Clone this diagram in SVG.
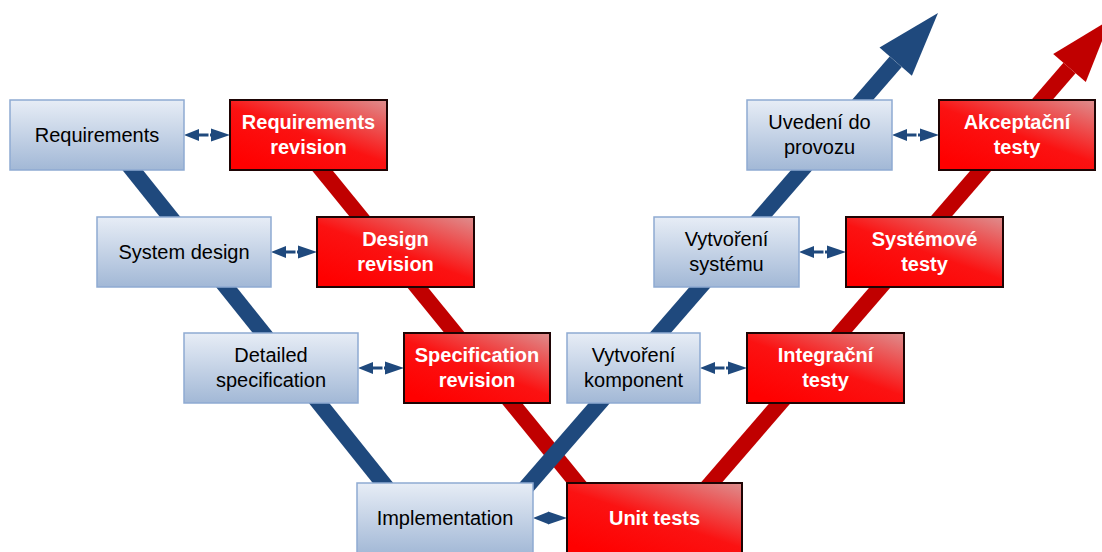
<svg xmlns="http://www.w3.org/2000/svg" width="1102" height="552" viewBox="0 0 1102 552">
<defs>
<linearGradient id="gb" x1="0" y1="0" x2="0" y2="1">
<stop offset="0" stop-color="#e7edf6"/>
<stop offset="1" stop-color="#a2b8d6"/>
</linearGradient>
<linearGradient id="gr" x1="0.2" y1="1" x2="1" y2="0">
<stop offset="0" stop-color="#ff0000"/>
<stop offset="0.45" stop-color="#fb1212"/>
<stop offset="1" stop-color="#de8e8e"/>
</linearGradient>
</defs>
<style>
.bb{fill:url(#gb);stroke:#8eaad2;stroke-width:1.5}
.rb{fill:url(#gr);stroke:#1e0404;stroke-width:2}
.bt{font-family:"Liberation Sans",Arial,sans-serif;font-size:20px;fill:#000;text-anchor:middle}
.rt{font-family:"Liberation Sans",Arial,sans-serif;font-size:20px;font-weight:bold;fill:#fff;text-anchor:middle}
.lb{stroke:#1f497d;stroke-width:16;fill:none}
.lr{stroke:#c00000;stroke-width:16;fill:none}
.da{fill:#1f497d}
.gap{fill:#fff}
</style>
<g id="connectors">
<line class="lb" x1="104.6" y1="135" x2="411" y2="518"/>
<line class="lr" x1="293.4" y1="135" x2="605.5" y2="518"/>
<line class="lr" x1="680.8" y1="518" x2="1069.5" y2="68"/>
<polygon fill="#c00000" points="1053.2,54 1110.6,19.2 1085.8,82"/>
<line class="lb" x1="499.6" y1="518" x2="895.7" y2="61.7"/>
<polygon fill="#1f497d" points="879.5,47.6 938,13 911.9,75.8"/>
<g id="dbl1"><polygon class="da" points="184,135 199,129 199,141"/><rect class="da" x="198" y="133.5" width="15" height="3"/><polygon class="da" points="230,135 211,128.5 211,141.5"/><rect class="gap" x="208.5" y="132" width="1.5" height="6"/></g>
<g id="dbl2"><polygon class="da" points="271,252 286,246 286,258"/><rect class="da" x="285" y="250.5" width="15" height="3"/><polygon class="da" points="317,252 298,245.5 298,258.5"/><rect class="gap" x="295.5" y="249" width="1.5" height="6"/></g>
<g id="dbl3"><polygon class="da" points="358,368 373,362 373,374"/><rect class="da" x="372" y="366.5" width="15" height="3"/><polygon class="da" points="404,368 385,361.5 385,374.5"/><rect class="gap" x="382.5" y="365" width="1.5" height="6"/></g>
<g id="dbl4"><polygon class="da" points="533,518 548,512 548,524"/><polygon class="da" points="567,518 548,511.5 548,524.5"/></g>
<g id="dbl5"><polygon class="da" points="700,368 715,362 715,374"/><rect class="da" x="714" y="366.5" width="15" height="3"/><polygon class="da" points="747,368 728,361.5 728,374.5"/><rect class="gap" x="724.5" y="365" width="1.5" height="6"/></g>
<g id="dbl6"><polygon class="da" points="799,252 814,246 814,258"/><rect class="da" x="813" y="250.5" width="15" height="3"/><polygon class="da" points="846,252 827,245.5 827,258.5"/><rect class="gap" x="823.5" y="249" width="1.5" height="6"/></g>
<g id="dbl7"><polygon class="da" points="892,135 907,129 907,141"/><rect class="da" x="906" y="133.5" width="15" height="3"/><polygon class="da" points="939,135 920,128.5 920,141.5"/><rect class="gap" x="916.5" y="132" width="1.5" height="6"/></g>
</g>
<g id="requirements"><rect class="bb" x="10" y="100" width="174" height="70"/><text class="bt" x="97" y="142">Requirements</text></g>
<g id="req-revision"><rect class="rb" x="230" y="100" width="157" height="70"/><text class="rt" x="308.5" y="128.5">Requirements</text><text class="rt" x="308.5" y="153.5">revision</text></g>
<g id="system-design"><rect class="bb" x="97" y="217" width="174" height="70"/><text class="bt" x="184" y="259">System design</text></g>
<g id="design-revision"><rect class="rb" x="317" y="217" width="157" height="70"/><text class="rt" x="395.5" y="245.5">Design</text><text class="rt" x="395.5" y="270.5">revision</text></g>
<g id="detailed-spec"><rect class="bb" x="184" y="333" width="174" height="70"/><text class="bt" x="271" y="361.5">Detailed</text><text class="bt" x="271" y="386.5">specification</text></g>
<g id="spec-revision"><rect class="rb" x="404" y="333" width="146" height="70"/><text class="rt" x="477" y="361.5">Specification</text><text class="rt" x="477" y="386.5">revision</text></g>
<g id="implementation"><rect class="bb" x="357" y="483" width="176" height="72"/><text class="bt" x="445" y="525">Implementation</text></g>
<g id="unit-tests"><rect class="rb" x="567" y="483" width="175" height="72"/><text class="rt" x="654.5" y="525">Unit tests</text></g>
<g id="vytvoreni-komponent"><rect class="bb" x="567" y="333" width="133" height="70"/><text class="bt" x="633.5" y="361.5">Vytvoření</text><text class="bt" x="633.5" y="386.5">komponent</text></g>
<g id="integracni-testy"><rect class="rb" x="747" y="333" width="157" height="70"/><text class="rt" x="825.5" y="361.5">Integrační</text><text class="rt" x="825.5" y="386.5">testy</text></g>
<g id="vytvoreni-systemu"><rect class="bb" x="654" y="217" width="145" height="70"/><text class="bt" x="726.5" y="245.5">Vytvoření</text><text class="bt" x="726.5" y="270.5">systému</text></g>
<g id="systemove-testy"><rect class="rb" x="846" y="217" width="157" height="70"/><text class="rt" x="924.5" y="245.5">Systémové</text><text class="rt" x="924.5" y="270.5">testy</text></g>
<g id="uvedeni"><rect class="bb" x="747" y="100" width="145" height="70"/><text class="bt" x="819.5" y="128.5">Uvedení do</text><text class="bt" x="819.5" y="153.5">provozu</text></g>
<g id="akceptacni"><rect class="rb" x="939" y="100" width="156" height="70"/><text class="rt" x="1017" y="128.5">Akceptační</text><text class="rt" x="1017" y="153.5">testy</text></g>
</svg>
